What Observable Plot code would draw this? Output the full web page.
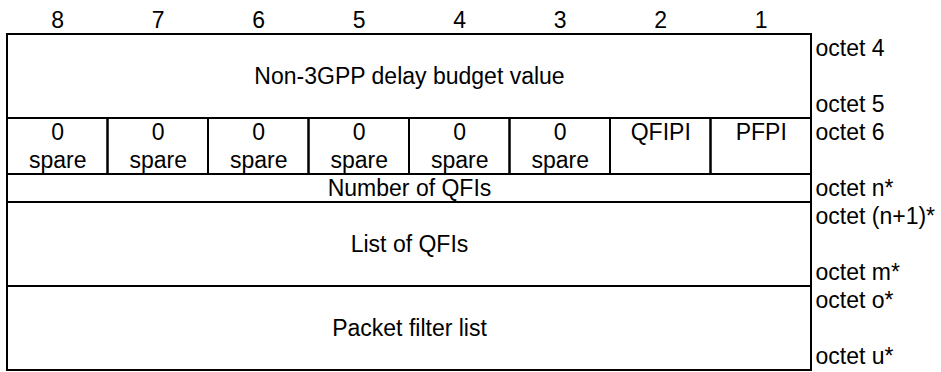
<!DOCTYPE html>
<html>
<head>
<meta charset="utf-8">
<script src="https://cdn.jsdelivr.net/npm/d3@7"></script>
<script src="https://cdn.jsdelivr.net/npm/@observablehq/plot@0.6"></script>
<style>
  html, body { margin: 0; padding: 0; background: #fff; }
</style>
</head>
<body>
<div id="chart"></div>
<script>
// Bit numbers across the top (bit 8 = left-most column)
const bits = [8, 7, 6, 5, 4, 3, 2, 1];

// Rows of the information element, with the number of text lines each spans
const rowNames = ["Non-3GPP delay budget value", "flags", "Number of QFIs", "List of QFIs", "Packet filter list"];
const rowSpans = [3, 2, 1, 3, 3];

// Contents of the one-bit-per-cell row (octet 6)
const flagTop = ["0", "0", "0", "0", "0", "0", "QFIPI", "PFPI"];
const flagBottom = ["spare", "spare", "spare", "spare", "spare", "spare", "", ""];

// Octet labels, one per text line on the right
const octetLabels = ["octet 4", "", "octet 5", "octet 6", "", "octet n*", "octet (n+1)*", "", "octet m*", "octet o*", "", "octet u*"];

// ---- derived tables ----
const starts = [0, ...d3.cumsum(rowSpans)].slice(0, rowSpans.length);
const totalLines = d3.sum(rowSpans);
const flagRow = rowNames.indexOf("flags");

const fullRows = rowNames
  .map((name, i) => ({name, y1: starts[i], y2: starts[i] + rowSpans[i]}))
  .filter((r, i) => i !== flagRow);

const flagCells = bits.map((b, i) => ({
  bit: b, x1: i, x2: i + 1,
  y1: starts[flagRow], y2: starts[flagRow] + rowSpans[flagRow],
  top: flagTop[i], bottom: flagBottom[i]
}));

const bitHeads = bits.map((b, i) => ({bit: String(b), x: i + 0.5}));
const octets = octetLabels.map((t, i) => ({t, y: i + 0.5})).filter(d => d.t);

const font = "'Liberation Sans', Arial, Helvetica, sans-serif";
const fs = 23;

const chart = Plot.plot({
  width: 941,
  height: 372,
  marginTop: 34,
  marginBottom: 2,
  marginLeft: 7,
  marginRight: 130,
  style: {background: "#fff", fontFamily: font, color: "#000"},
  x: {domain: [0, bits.length], axis: null},
  y: {domain: [0, totalLines], reverse: true, axis: null},
  marks: [
    // full-width rows
    Plot.rect(fullRows, {x1: 0, x2: bits.length, y1: "y1", y2: "y2", fill: "none", stroke: "#000", strokeWidth: 2}),
    // per-bit cells
    Plot.rect(flagCells, {x1: "x1", x2: "x2", y1: "y1", y2: "y2", fill: "none", stroke: "#000", strokeWidth: 2}),
    // bit numbers
    Plot.text(bitHeads, {x: "x", y: -0.5, text: "bit", fontSize: fs, fill: "#000", fontFamily: font}),
    // row names
    Plot.text(fullRows, {x: bits.length / 2, y: d => (d.y1 + d.y2) / 2, text: "name", fontSize: fs, fill: "#000", fontFamily: font}),
    // flag row text
    Plot.text(flagCells, {x: d => d.x1 + 0.5, y: d => d.y1 + 0.5, text: "top", fontSize: fs, fill: "#000", fontFamily: font}),
    Plot.text(flagCells, {x: d => d.x1 + 0.5, y: d => d.y1 + 1.5, text: "bottom", fontSize: fs, fill: "#000", fontFamily: font}),
    // octet labels
    Plot.text(octets, {x: bits.length, y: "y", text: "t", textAnchor: "start", dx: 4, fontSize: fs, fill: "#000", fontFamily: font})
  ]
});

document.getElementById("chart").appendChild(chart);
</script>
</body>
</html>
